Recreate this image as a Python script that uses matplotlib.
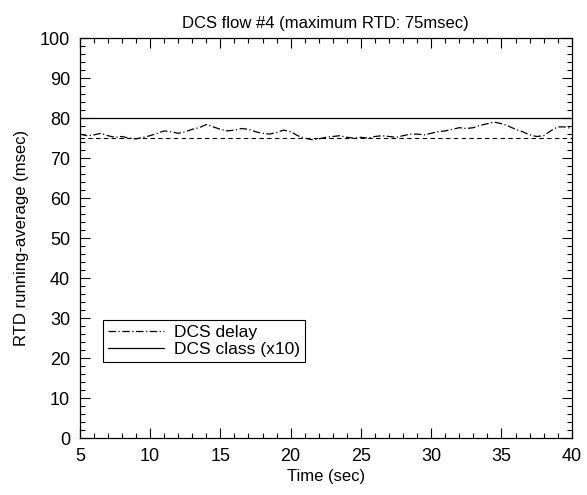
import numpy as np
import matplotlib.pyplot as plt
from matplotlib.ticker import MultipleLocator

plt.rcParams['font.family'] = ['Liberation Sans', 'DejaVu Sans']

# time axis (sec), one sample every half second
time_s = np.arange(5, 40.01, 0.5)

# DCS delay running average (msec)
dcs_delay = [76.0, 75.6, 75.8, 76.2, 75.6, 75.2, 75.4, 75.0, 74.8, 75.2,
             75.6, 76.2, 76.8, 76.6, 76.2, 76.6, 77.2, 77.6, 78.4, 77.8,
             77.2, 76.8, 77.0, 77.4, 77.2, 76.6, 76.2, 76.0, 76.4, 77.0,
             76.6, 75.6, 75.0, 74.6, 74.8, 75.2, 75.4, 75.6, 75.2, 75.0,
             75.2, 75.0, 75.4, 75.6, 75.4, 75.2, 75.6, 76.0, 76.0, 75.8,
             76.2, 76.6, 76.8, 77.2, 77.6, 77.4, 77.6, 78.2, 78.6, 79.0,
             78.6, 78.0, 77.2, 76.6, 75.8, 75.4, 75.6, 76.8, 77.8, 77.8,
             77.4]

dcs_class = 8        # class value, drawn x10
max_rtd = 75         # msec

fig, ax = plt.subplots(figsize=(5.87, 4.95), dpi=100)
fig.subplots_adjust(left=0.136, right=0.974, top=0.923, bottom=0.115)

ax.plot(time_s, dcs_delay, color='black', linestyle=(0, (6, 2, 1, 2)),
        linewidth=0.9, label='DCS delay')
ax.plot(time_s, np.full(len(time_s), dcs_class * 10), color='black',
        linestyle='-', linewidth=0.9, label='DCS class (x10)')
ax.plot(time_s, np.full(len(time_s), max_rtd), color='black',
        linestyle=(0, (4, 3)), linewidth=0.8)

ax.set_xlim(5, 40)
ax.set_ylim(0, 100)
ax.xaxis.set_major_locator(MultipleLocator(5))
ax.xaxis.set_minor_locator(MultipleLocator(1))
ax.yaxis.set_major_locator(MultipleLocator(10))
ax.yaxis.set_minor_locator(MultipleLocator(2))
ax.tick_params(which='both', direction='in', top=True, right=True,
               labelsize=13, width=0.8, pad=7)
ax.tick_params(which='major', length=7)
ax.tick_params(which='minor', length=3.5)
for s in ax.spines.values():
    s.set_linewidth(0.9)

ax.set_xlabel('Time (sec)', fontsize=12, labelpad=3)
ax.set_ylabel('RTD running-average (msec)', fontsize=12, labelpad=8)
ax.set_title('DCS flow #4 (maximum RTD: 75msec)', fontsize=12, pad=7)

leg = ax.legend(loc='lower left', bbox_to_anchor=(0.047, 0.19), fontsize=12.5,
                fancybox=False, edgecolor='black', framealpha=1,
                handlelength=3.2, handletextpad=0.6, borderpad=0.3,
                labelspacing=0.1, borderaxespad=0)
leg.get_frame().set_linewidth(0.8)

fig.savefig('out.png', dpi=100)
